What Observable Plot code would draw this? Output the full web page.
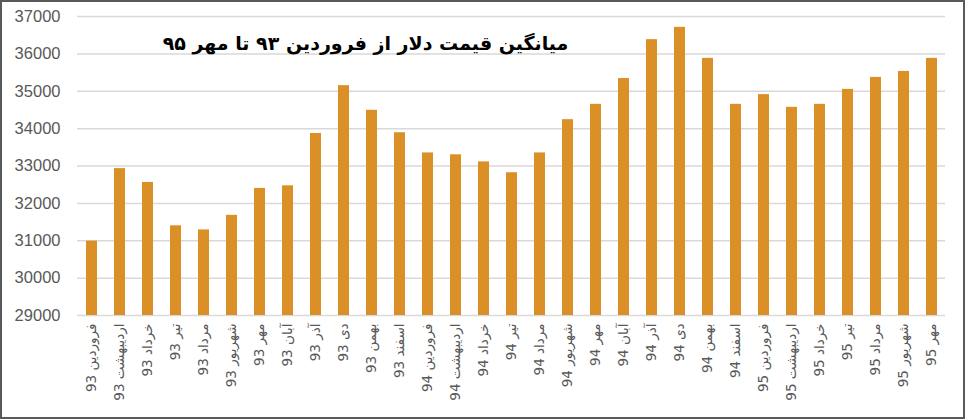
<!DOCTYPE html>
<html>
<head>
<meta charset="utf-8">
<script src="https://cdn.jsdelivr.net/npm/d3@7"></script>
<script src="https://cdn.jsdelivr.net/npm/@observablehq/plot@0.6"></script>
<style>
  html, body { margin: 0; padding: 0; background: #fff; }
  #wrap { position: relative; width: 965px; height: 419px; overflow: hidden; }
  #border { position: absolute; left: 0; top: 0; width: 965px; height: 419px; box-sizing: border-box; border: 2px solid #5a5a5a; pointer-events: none; }
</style>
</head>
<body>
<div id="wrap"><div id="border"></div></div>
<script>
const title = "میانگین قیمت دلار از فروردین ۹۳ تا مهر ۹۵";
const periodMonths = [
  "فروردین","اردیبهشت","خرداد","تیر","مرداد","شهریور","مهر","آبان","آذر","دی","بهمن","اسفند",
  "فروردین","اردیبهشت","خرداد","تیر","مرداد","شهریور","مهر","آبان","آذر","دی","بهمن","اسفند",
  "فروردین","اردیبهشت","خرداد","تیر","مرداد","شهریور","مهر"
];
const periodYears = [
  93,93,93,93,93,93,93,93,93,93,93,93,
  94,94,94,94,94,94,94,94,94,94,94,94,
  95,95,95,95,95,95,95
];
const values = [
  30990, 32930, 32560, 31400, 31290, 31680, 32400, 32470, 33870, 35150, 34490, 33890,
  33350, 33300, 33110, 32820, 33350, 34240, 34650, 35340, 36380, 36710, 35880, 34650,
  34910, 34570, 34650, 35050, 35370, 35530, 35880
];
const yTicks = [29000, 30000, 31000, 32000, 33000, 34000, 35000, 36000, 37000];

const labels = periodMonths.map((m, i) => m + " " + periodYears[i]);
const data = labels.map((label, i) => ({label, value: values[i]}));
const yMin = yTicks[0];

const chart = Plot.plot({
  width: 965,
  height: 419,
  marginLeft: 77,
  marginRight: 20,
  marginTop: 16,
  marginBottom: 104,
  style: {background: "transparent", color: "#595959"},
  x: {domain: labels, paddingInner: 0.62, paddingOuter: 0.31, label: null},
  y: {domain: [yTicks[0], yTicks[yTicks.length - 1]], ticks: yTicks, label: null},
  marks: [
    Plot.gridY(yTicks, {stroke: "#d9d9d9", strokeOpacity: 1, strokeWidth: 1.5}),
    Plot.barY(data, {x: "label", y1: () => yMin, y2: "value", fill: "#db8f27"}),
    Plot.axisY(yTicks, {tickSize: 0, tickPadding: 17, fontSize: 16.5, fontFamily: "Liberation Sans, Arial, sans-serif", fill: "#595959", tickFormat: d => String(d)}),
    Plot.axisX({tickSize: 0, tickPadding: 8, tickRotate: -90, fontSize: 13.5, fontFamily: "DejaVu Sans, sans-serif", fill: "#595959"}),
    Plot.text([title], {frameAnchor: "top", dx: -146, dy: 20, text: d => d, fontSize: 19, fontWeight: "bold", fill: "#000", fontFamily: "DejaVu Sans, sans-serif"})
  ]
});
document.getElementById("wrap").prepend(chart);
</script>
</body>
</html>
